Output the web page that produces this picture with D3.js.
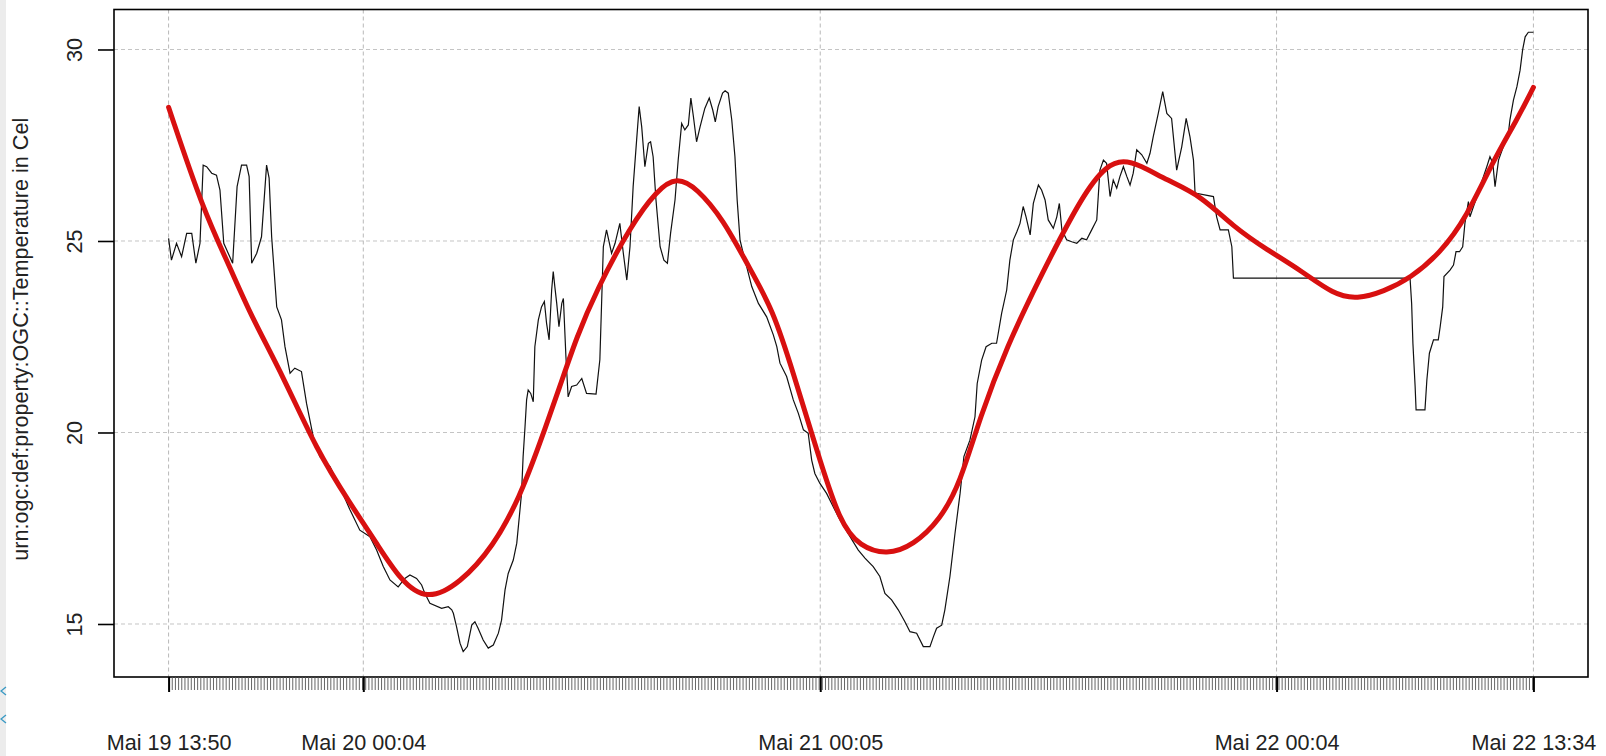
<!DOCTYPE html>
<html>
<head>
<meta charset="utf-8">
<script src="https://cdnjs.cloudflare.com/ajax/libs/d3/7.8.5/d3.min.js"></script>
<style>
body{margin:0;background:#fff;overflow:hidden;}
svg{display:block;font-family:"Liberation Sans",Arial,sans-serif;}
</style>
</head>
<body>
<script>
//series start / end
var startTime = new Date(2013,4,19,13,50);
var endTime = new Date(2013,4,22,13,34);

//labelled x ticks
var tickTimes = [
	new Date(2013,4,19,13,50),
	new Date(2013,4,20,0,4),
	new Date(2013,4,21,0,5),
	new Date(2013,4,22,0,4),
	new Date(2013,4,22,13,34)
];

//observations: minutes after start and temperature
var obsMinutes = [0,9,25,41,57,73,86,99,109,120,136,151,162,174,202,216,230,246,254,262,278,293,309,317,325,341,356,367,383,398,
	419,435,456,477,509,540,572,603,635,656,677,698,724,745,761,782,798,808,824,861,882,893,898,908,919,929,942,956,966,976,
	992,1008,1024,1040,1050,1061,1071,1087,1098,1106,1113,1118,1124,1129,1134,1142,1150,1155,1166,1176,1185,1192,1200,1208,1213,1218,1224,1231,1240,1245,
	1253,1260,1271,1287,1303,1318,1348,1360,1371,1381,1397,1408,1423,1434,1445,1455,1465,1476,1484,1492,1502,1513,1520,1528,1537,1550,1562,1573,1583,1597,
	1607,1618,1628,1639,1647,1655,1665,1676,1691,1705,1716,1724,1733,1747,1755,1765,1776,1786,1793,1802,1812,1823,1839,1860,1886,1907,1918,1928,1949,1970,
	1986,2002,2017,2028,2038,2054,2075,2096,2117,2149,2175,2196,2222,2243,2259,2280,2301,2322,2338,2359,2380,2401,2412,2422,2438,2448,2464,2480,2496,2508,
	2527,2543,2550,2564,2578,2596,2611,2627,2643,2653,2664,2675,2685,2695,2704,2717,2727,2743,2753,2764,2774,2790,2801,2809,2817,2832,2848,2864,2880,2895,
	2911,2927,2937,2948,2958,2969,2979,2990,3000,3011,3022,3032,3042,3053,3069,3085,3095,3105,3121,3135,3148,3163,3179,3195,3209,3221,3232,3237,3295,3305,
	3316,3342,3353,3358,3915,3920,3924,3931,3934,3962,3968,3976,3989,4004,4010,4018,4022,4041,4052,4060,4071,4081,4088,4099,4104,4115,4130,4141,4157,4167,
	4176,4183,4194,4209,4225,4230,4241,4252,4262,4270,4278,4288,4304];
var obsTemp = [25.07,24.5,24.94,24.59,25.2,25.2,24.42,24.94,26.98,26.94,26.77,26.72,26.33,24.94,24.42,26.42,26.98,26.98,26.68,24.42,24.68,25.11,26.98,26.64,25.11,23.28,22.94,22.24,21.55,21.68,
	21.59,20.76,19.89,19.37,19.11,18.58,17.98,17.45,17.28,16.93,16.5,16.15,15.97,16.19,16.28,16.19,16.02,15.8,15.54,15.41,15.45,15.37,15.28,14.93,14.5,14.28,14.41,14.97,15.06,14.89,
	14.58,14.37,14.45,14.76,15.1,15.89,16.32,16.67,17.11,17.8,18.41,19.37,20.15,20.85,21.11,21.02,20.8,22.24,22.94,23.28,23.42,22.85,22.42,23.72,24.2,23.81,23.37,22.76,23.37,23.5,
	21.98,20.93,21.2,21.24,21.41,21.02,21.0,21.9,24.85,25.29,24.68,24.94,25.46,24.68,23.98,24.85,26.42,27.64,28.51,27.98,26.94,27.55,27.59,27.2,26.07,24.85,24.5,24.42,25.2,26.07,
	27.11,28.07,27.9,28.03,28.73,28.25,27.59,27.98,28.46,28.73,28.42,28.11,28.51,28.86,28.92,28.86,28.16,27.2,26.07,25.03,24.68,24.33,23.81,23.37,23.02,22.55,22.24,21.81,21.46,20.85,
	20.5,20.07,19.98,19.28,18.93,18.67,18.41,18.06,17.72,17.28,16.93,16.72,16.5,16.24,15.8,15.63,15.37,15.06,14.8,14.76,14.41,14.41,14.67,14.89,14.97,15.37,16.24,17.37,18.41,19.37,
	19.8,20.41,21.28,21.89,22.24,22.33,22.33,23.11,23.72,24.5,25.03,25.24,25.46,25.9,25.63,25.16,25.98,26.46,26.33,26.07,25.55,25.33,25.63,25.98,25.29,25.03,24.98,24.94,25.07,25.03,
	25.29,25.55,26.85,27.11,27.03,26.16,26.59,26.38,26.68,26.94,26.68,26.46,26.77,27.38,27.25,27.03,27.29,27.72,28.33,28.9,28.33,28.2,26.85,27.46,28.2,27.72,27.11,26.25,26.16,25.63,
	25.29,25.29,24.85,24.03,24.03,23.37,22.33,21.2,20.59,20.59,21.37,22.07,22.42,22.42,22.76,23.28,24.07,24.24,24.37,24.72,24.72,24.85,25.46,26.03,25.63,25.9,26.25,26.55,26.94,27.2,
	27.03,26.42,27.11,27.46,27.81,28.16,28.68,29.03,29.46,29.99,30.33,30.45,30.45];

//smoothed fit (red)
var fitMinutes = [0,109,193,256,362,467,572,656,730,814,919,1024,1108,1171,1234,1287,1350,1455,1540,1603,1666,1750,1823,1907,1970,2044,2117,2181,2265,2349,
	2433,2496,2559,2643,2749,2885,2959,3011,3064,3148,3253,3358,3464,3569,3674,3748,3832,3916,4010,4094,4178,4252,4304];
var fitTemp = [28.49,25.81,24.33,23.11,21.46,19.54,18.15,17.11,16.15,15.6,16.06,17.02,18.32,19.72,21.2,22.5,23.72,25.37,26.33,26.68,26.38,25.55,24.42,23.2,21.55,19.54,17.63,17.02,16.8,17.06,
	17.72,18.67,20.41,22.24,24.07,26.25,26.98,27.11,26.98,26.59,26.2,25.37,24.77,24.24,23.6,23.48,23.68,24.03,24.68,25.63,27.11,28.16,29.01];

var yTicks = [15,20,25,30];
var yLabel = 'urn:ogc:def:property:OGC::Temperature in Cel';

//plot box
var width = 1606, height = 756;
var box = {left:114, right:1588, top:9.5, bottom:677};

//german month names for the tick labels
var de = d3.timeFormatLocale({
	dateTime:'%A, der %e. %B %Y, %X', date:'%d.%m.%Y', time:'%H:%M:%S', periods:['AM','PM'],
	days:['Sonntag','Montag','Dienstag','Mittwoch','Donnerstag','Freitag','Samstag'],
	shortDays:['So','Mo','Di','Mi','Do','Fr','Sa'],
	months:['Januar','Februar','März','April','Mai','Juni','Juli','August','September','Oktober','November','Dezember'],
	shortMonths:['Jan','Feb','Mär','Apr','Mai','Jun','Jul','Aug','Sep','Okt','Nov','Dez']
});
var fmt = de.format('%b %d %H:%M');

function atMinute(m){ return d3.timeMinute.offset(startTime, m); }

//scales, padded 4% like R does
var span = endTime - startTime;
var x = d3.scaleTime()
	.domain([new Date(+startTime - span*0.04), new Date(+endTime + span*0.04)])
	.range([box.left, box.right]);
var y = d3.scaleLinear().domain([13.616, 31.044]).range([box.bottom, box.top]);

var svg = d3.select('body').append('svg')
	.attr('width', width)
	.attr('height', height);

svg.append('rect').attr('width', width).attr('height', height).attr('fill', '#fff');

//screenshot edge
svg.append('rect').attr('x',0).attr('y',0).attr('width',6).attr('height',height).attr('fill','#ececec');
[691, 719].forEach(function(cy){
	svg.append('path')
		.attr('d', 'M6,' + (cy-4) + 'L1,' + cy + 'L6,' + (cy+4))
		.attr('fill','none').attr('stroke','#3a9ac4').attr('stroke-width',1.4);
});

//grid
var grid = svg.append('g');
grid.selectAll('line.h').data(yTicks).enter().append('line')
	.attr('class','h')
	.attr('x1', box.left).attr('x2', box.right)
	.attr('y1', function(d){return y(d)}).attr('y2', function(d){return y(d)})
	.attr('stroke','#c4c4c4').attr('stroke-dasharray','4,3');
grid.selectAll('line.v').data(tickTimes).enter().append('line')
	.attr('class','v')
	.attr('x1', function(d){return x(d)}).attr('x2', function(d){return x(d)})
	.attr('y1', box.top).attr('y2', box.bottom)
	.attr('stroke','#b8b8b8').attr('stroke-dasharray','4,3');

//observed series
var obs = obsMinutes.map(function(m,i){ return {t:atMinute(m), v:obsTemp[i]}; });
svg.append('path').datum(obs)
	.attr('d', d3.line().x(function(d){return x(d.t)}).y(function(d){return y(d.v)}))
	.attr('fill','none').attr('stroke','#111').attr('stroke-width',1.2);

//smoothed fit
var fit = fitMinutes.map(function(m,i){ return {t:atMinute(m), v:fitTemp[i]}; });
svg.append('path').datum(fit)
	.attr('d', d3.line().curve(d3.curveBasis).x(function(d){return x(d.t)}).y(function(d){return y(d.v)}))
	.attr('fill','none').attr('stroke','#d81010').attr('stroke-width',5)
	.attr('stroke-linejoin','round').attr('stroke-linecap','round');

//box
svg.append('rect')
	.attr('x', box.left).attr('y', box.top)
	.attr('width', box.right-box.left).attr('height', box.bottom-box.top)
	.attr('fill','none').attr('stroke','#000').attr('stroke-width',1.6);

//x axis: one small tick every 10 min, labelled ticks on top
var minor = svg.append('g').attr('transform','translate(0,' + box.bottom + ')')
	.call(d3.axisBottom(x).tickValues(d3.timeMinute.every(10).range(startTime, endTime)).tickSize(13).tickFormat(''));
minor.select('.domain').remove();
minor.selectAll('.tick line').attr('stroke','#555').attr('stroke-width',0.9);

var major = svg.append('g').attr('transform','translate(0,' + box.bottom + ')')
	.call(d3.axisBottom(x).tickValues(tickTimes).tickSize(15).tickPadding(43).tickFormat(fmt));
major.select('.domain').remove();
major.selectAll('.tick line').attr('stroke','#000').attr('stroke-width',2);
major.selectAll('.tick text').attr('font-size','21.6px').attr('fill','#222').attr('font-family','"Liberation Sans",Arial,sans-serif');

//y axis with labels turned along the axis
var yAxis = svg.append('g').attr('transform','translate(' + box.left + ',0)')
	.call(d3.axisLeft(y).tickValues(yTicks).tickSize(16).tickFormat(d3.format('d')));
yAxis.select('.domain').remove();
yAxis.selectAll('.tick line').attr('stroke','#000').attr('stroke-width',1.6);
yAxis.selectAll('.tick text')
	.attr('x', null).attr('dy', null)
	.attr('transform','translate(-32,0) rotate(-90)')
	.attr('text-anchor','middle')
	.attr('font-size','21.6px').attr('fill','#222').attr('font-family','"Liberation Sans",Arial,sans-serif');

svg.append('text')
	.attr('transform','translate(28,' + ((box.top+box.bottom)/2 - 4) + ') rotate(-90)')
	.attr('text-anchor','middle')
	.attr('font-size','21.6px').attr('fill','#222')
	.text(yLabel);
</script>
</body>
</html>
